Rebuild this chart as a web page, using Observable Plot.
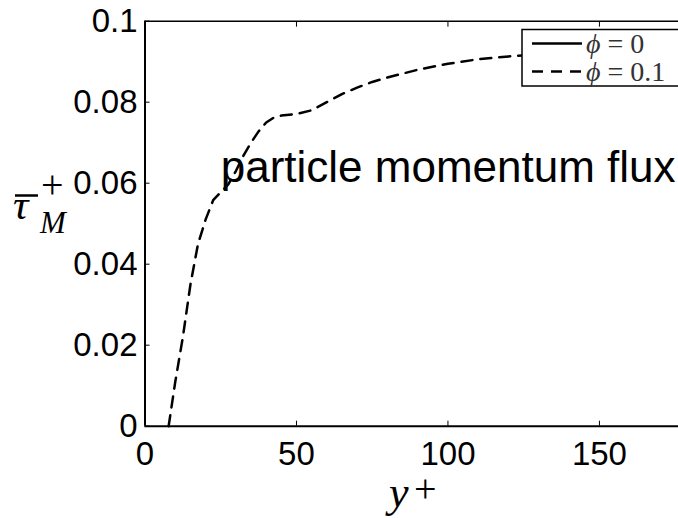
<!DOCTYPE html>
<html>
<head>
<meta charset="utf-8">
<script src="https://cdn.jsdelivr.net/npm/d3@7"></script>
<script src="https://cdn.jsdelivr.net/npm/@observablehq/plot@0.6"></script>
<style>
  html, body { margin: 0; padding: 0; background: white; }
  svg { display: block; }
</style>
</head>
<body>
<div id="chart"></div>
<script>
// y+ (wall distance) and mean particle momentum flux for phi = 0.1
const yPlus = [7.8, 10, 12.5, 15, 17.5, 20, 22.5, 25, 27.5, 30, 32.5, 35, 37.5, 40, 42.5, 45, 50, 55, 60, 65, 70, 75, 80, 90, 100, 110, 120, 130, 140, 150, 160, 170, 177];
const tauM  = [0, 0.011, 0.022, 0.035, 0.045, 0.051, 0.0558, 0.0578, 0.0597, 0.063, 0.0668, 0.070, 0.0728, 0.0750, 0.0762, 0.0767, 0.0771, 0.0780, 0.0800, 0.0820, 0.0836, 0.0850, 0.0861, 0.0880, 0.0895, 0.0906, 0.0913, 0.0918, 0.0922, 0.0926, 0.0929, 0.0932, 0.0934];

const xTicks = [0, 50, 100, 150];
const yTicks = [0, 0.02, 0.04, 0.06, 0.08, 0.1];
const legendLabels = [["ϕ", " = 0"], ["ϕ", " = 0.1"]];
const annotationText = "particle momentum flux";
const annotationAt = {x: 25.0, y: 0.0638};

const data = yPlus.map((x, i) => ({x, y: tauM[i]}));

const chart = Plot.plot({
  width: 678,
  height: 518,
  marginLeft: 144.5,
  marginRight: 0,
  marginTop: 20.7,
  marginBottom: 92.3,
  x: {domain: [0, 176.1]},
  y: {domain: [0, 0.1]},
  style: {fontFamily: "'Liberation Sans', Arial, sans-serif", background: "white", color: "black"},
  marks: [
    Plot.line(data, {x: "x", y: "y", stroke: "black", strokeWidth: 2.5, strokeDasharray: "11,8"}),
    Plot.text([annotationAt], {x: "x", y: "y", text: () => annotationText, textAnchor: "start", fontSize: 44, fill: "black"}),
    Plot.axisX({ticks: xTicks, tickSize: -5, tickPadding: 20, fontSize: 33, label: null, tickFormat: d => String(d), strokeWidth: 1}),
    Plot.axisX({anchor: "top", ticks: xTicks, tickSize: -5, tickFormat: () => "", label: null}),
    Plot.axisY({ticks: yTicks, tickSize: -5, tickPadding: 12.5, fontSize: 33, label: null, tickFormat: d => String(d)}),
    Plot.ruleY([0], {strokeWidth: 2}),
    Plot.ruleX([0], {strokeWidth: 2}),
    Plot.ruleY([0.1], {strokeWidth: 1.5})
  ]
});

document.getElementById("chart").appendChild(chart);

const svg = d3.select(chart);
const serif = "'Liberation Serif', 'Times New Roman', serif";

// y-axis label: overline tau, superscript +, subscript M
const yl = svg.append("g").attr("text-anchor", "start");
yl.append("text").attr("x", 13).attr("y", 219).attr("font-family", serif).attr("font-style", "italic").attr("font-size", 43).text("τ");
yl.append("line").attr("x1", 15).attr("x2", 38).attr("y1", 195.5).attr("y2", 195.5).attr("stroke", "black").attr("stroke-width", 2.5);
yl.append("text").attr("x", 41).attr("y", 198).attr("font-family", serif).attr("font-size", 40).text("+");
yl.append("text").attr("x", 40).attr("y", 233).attr("font-family", serif).attr("font-style", "italic").attr("font-size", 31).text("M");

// x-axis label: y^+
const xl = svg.append("g").attr("text-anchor", "start");
xl.append("text").attr("x", 389).attr("y", 507).attr("font-family", serif).attr("font-style", "italic").attr("font-size", 44).text("y");
xl.append("text").attr("x", 414).attr("y", 502).attr("font-family", serif).attr("font-size", 40).text("+");

// legend
const lg = svg.append("g").attr("text-anchor", "start");
lg.append("rect").attr("x", 522).attr("y", 29.5).attr("width", 170).attr("height", 56.5)
  .attr("fill", "white").attr("stroke", "black").attr("stroke-width", 1.5);
const rowsY = [43.5, 71.5];
const dashes = [null, "11,8"];
legendLabels.forEach((lab, i) => {
  lg.append("line").attr("x1", 532).attr("x2", 582).attr("y1", rowsY[i]).attr("y2", rowsY[i])
    .attr("stroke", "black").attr("stroke-width", 2.5).attr("stroke-dasharray", dashes[i]);
  const t = lg.append("text").attr("x", 586).attr("y", rowsY[i] + 9.5).attr("font-family", serif).attr("font-size", 28).attr("fill", "#333")
    .style("white-space", "pre");
  t.append("tspan").attr("font-style", "italic").text(lab[0]);
  t.append("tspan").text(lab[1]);
});
</script>
</body>
</html>
